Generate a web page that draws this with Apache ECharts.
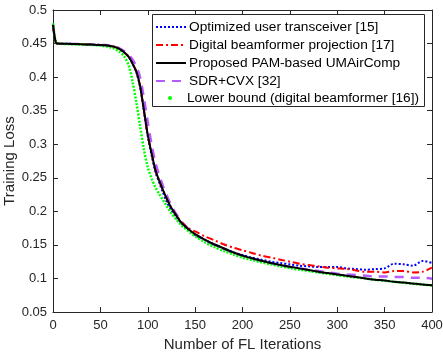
<!DOCTYPE html>
<html>
<head>
<meta charset="utf-8">
<script src="https://cdn.jsdelivr.net/npm/echarts@6/dist/echarts.min.js"></script>
<style>
  html, body { margin: 0; padding: 0; background: #fff; }
  #lossChart { width: 443px; height: 354px; }
</style>
</head>
<body>
<div id="lossChart"></div>
<script>
// FL iteration index for each sample
var iterations = [0, 2, 4, 10, 20, 30, 40, 50, 55, 60, 65, 70, 75, 80, 84, 88, 92, 96, 100, 104, 108, 112, 116, 120,
    125, 130, 135, 140, 145, 150, 160, 170, 180, 190, 200, 210, 220, 230, 240, 250, 260, 270, 280, 290, 300,
    310, 320, 330, 340, 350, 360, 370, 380, 390, 400];

var optimizedTransceiver = [0.478, 0.458, 0.450, 0.4498, 0.4495, 0.449, 0.4485, 0.448, 0.4475, 0.4465, 0.445, 0.442, 0.437, 0.430, 0.420, 0.407, 0.385, 0.349, 0.312, 0.284, 0.259, 0.243, 0.228, 0.214,
    0.201, 0.191, 0.183, 0.176, 0.170, 0.165, 0.158, 0.151, 0.145, 0.139, 0.135, 0.131, 0.128, 0.125, 0.123, 0.121, 0.119, 0.118, 0.117, 0.117, 0.117,
    0.115, 0.114, 0.113, 0.114, 0.115, 0.122, 0.121, 0.119, 0.126, 0.123];

var digitalProjection = [0.478, 0.458, 0.450, 0.4498, 0.4495, 0.449, 0.4485, 0.448, 0.4475, 0.4465, 0.445, 0.442, 0.437, 0.430, 0.420, 0.408, 0.386, 0.350, 0.314, 0.287, 0.262, 0.246, 0.232, 0.219,
    0.205, 0.194, 0.185, 0.178, 0.173, 0.170, 0.163, 0.157, 0.151, 0.146, 0.142, 0.138, 0.134, 0.131, 0.128, 0.125, 0.122, 0.120, 0.118, 0.116, 0.115,
    0.114, 0.112, 0.110, 0.110, 0.109, 0.111, 0.111, 0.109, 0.110, 0.116];

var proposedPAM = [0.478, 0.458, 0.450, 0.4498, 0.4495, 0.449, 0.4485, 0.448, 0.4475, 0.4465, 0.445, 0.442, 0.437, 0.430, 0.420, 0.408, 0.386, 0.350, 0.314, 0.287, 0.262, 0.246, 0.232, 0.219,
    0.205, 0.194, 0.184, 0.177, 0.171, 0.166, 0.158, 0.151, 0.145, 0.139, 0.134, 0.130, 0.1265, 0.123, 0.120, 0.1175, 0.115, 0.1125, 0.110, 0.108, 0.106,
    0.104, 0.102, 0.100, 0.098, 0.097, 0.095, 0.094, 0.0925, 0.091, 0.090];

var sdrCvx = [0.478, 0.458, 0.450, 0.4498, 0.4495, 0.449, 0.4485, 0.448, 0.4478, 0.447, 0.4458, 0.443, 0.439, 0.433, 0.426, 0.416, 0.399, 0.368, 0.333, 0.300, 0.273, 0.254, 0.238, 0.224,
    0.208, 0.196, 0.186, 0.178, 0.171, 0.165, 0.157, 0.150, 0.144, 0.138, 0.134, 0.130, 0.126, 0.123, 0.120, 0.117, 0.115, 0.113, 0.111, 0.109, 0.107,
    0.106, 0.105, 0.104, 0.103, 0.103, 0.102, 0.102, 0.101, 0.101, 0.0995];

var lowerBound = [0.480, 0.458, 0.450, 0.4495, 0.449, 0.4485, 0.448, 0.447, 0.446, 0.4445, 0.442, 0.438, 0.431, 0.417, 0.393, 0.362, 0.326, 0.292, 0.266, 0.249, 0.236, 0.226, 0.217, 0.208,
    0.197, 0.188, 0.180, 0.174, 0.168, 0.163, 0.154, 0.147, 0.141, 0.136, 0.131, 0.1275, 0.124, 0.121, 0.118, 0.1155, 0.113, 0.111, 0.109, 0.107, 0.105,
    0.103, 0.1015, 0.100, 0.098, 0.0965, 0.095, 0.0935, 0.092, 0.091, 0.0895];

var xTicks = [0, 50, 100, 150, 200, 250, 300, 350, 400];
var yTicks = [0.05, 0.1, 0.15, 0.2, 0.25, 0.3, 0.35, 0.4, 0.45, 0.5];

var seriesNames = [
    'Optimized user transceiver [15]',
    'Digital beamformer projection [17]',
    'Proposed PAM-based UMAirComp',
    'SDR+CVX [32]',
    'Lower bound (digital beamformer [16])'
];

function pairs(ys) {
    return iterations.map(function (x, i) { return [x, ys[i]]; });
}

var chart = echarts.init(document.getElementById('lossChart'));

var axisColor = '#262626';
var font = 'Liberation Sans, Arial, Helvetica, sans-serif';

function xAxisDef(pos, showLabels) {
    return {
        type: 'value',
        position: pos,
        min: xTicks[0],
        max: xTicks[xTicks.length - 1],
        interval: xTicks[1] - xTicks[0],
        name: showLabels ? 'Number of FL Iterations' : '',
        nameLocation: 'middle',
        nameGap: 25,
        nameTextStyle: { color: '#262626', fontSize: 15, fontFamily: font },
        axisLine: { show: true, onZero: false, lineStyle: { color: axisColor, width: 1 } },
        axisTick: { show: true, inside: true, length: 5, lineStyle: { color: axisColor } },
        axisLabel: { show: showLabels, color: '#262626', fontSize: 13, fontFamily: font, margin: 7 },
        splitLine: { show: false }
    };
}

function yAxisDef(pos, showLabels) {
    return {
        type: 'value',
        position: pos,
        min: yTicks[0],
        max: yTicks[yTicks.length - 1],
        interval: 0.05,
        name: showLabels ? 'Training Loss' : '',
        nameLocation: 'middle',
        nameGap: 36,
        nameMoveOverlap: false,
        nameTextStyle: { color: '#262626', fontSize: 15, fontFamily: font },
        axisLine: { show: true, onZero: false, lineStyle: { color: axisColor, width: 1 } },
        axisTick: { show: true, inside: true, length: 5, lineStyle: { color: axisColor } },
        axisLabel: {
            show: showLabels, color: '#262626', fontSize: 13, fontFamily: font, margin: 6,
            formatter: function (v) { return String(+v.toFixed(2)); }
        },
        splitLine: { show: false }
    };
}

var option = {
    animation: false,
    backgroundColor: '#fff',
    grid: { left: 53, right: 11, top: 10, bottom: 42, outerBoundsMode: 'none', containLabel: false },
    xAxis: [xAxisDef('bottom', true), xAxisDef('top', false)],
    yAxis: [yAxisDef('left', true), yAxisDef('right', false)],
    graphic: [{
        type: 'rect',
        shape: { x: 152.5, y: 14.5, width: 272, height: 92 },
        style: { fill: '#fff', stroke: '#262626', lineWidth: 1 },
        z: 5
    }],
    legend: [{
        data: seriesNames.slice(0, 4),
        orient: 'vertical',
        left: 152,
        top: 15,
        padding: [5, 4, 4, 3],
        itemWidth: 30,
        itemHeight: 14,
        itemGap: 4,
        itemStyle: { opacity: 0 },
        textStyle: { color: '#000', fontSize: 13.7, fontFamily: font, padding: [0, 0, 0, -2] },
        z: 10
    }, {
        data: [{ name: seriesNames[4], icon: 'circle' }],
        orient: 'vertical',
        left: 168,
        top: 91,
        padding: 0,
        itemWidth: 4,
        itemHeight: 4,
        textStyle: { color: '#000', fontSize: 13.7, fontFamily: font, padding: [0, 0, 0, 10] },
        z: 10
    }],
    series: [{
        name: seriesNames[0],
        type: 'line',
        data: pairs(optimizedTransceiver),
        symbol: 'none',
        smooth: 0.3,
        itemStyle: { color: '#0000ff' },
        lineStyle: { color: '#0000ff', width: 2, type: [2, 2] },
        z: 3
    }, {
        name: seriesNames[1],
        type: 'line',
        data: pairs(digitalProjection),
        symbol: 'none',
        smooth: 0.3,
        itemStyle: { color: '#ff0000' },
        lineStyle: { color: '#ff0000', width: 2, type: [7, 3, 2, 3] },
        z: 3
    }, {
        name: seriesNames[2],
        type: 'line',
        data: pairs(proposedPAM),
        symbol: 'none',
        smooth: 0.3,
        itemStyle: { color: '#000000' },
        lineStyle: { color: '#000000', width: 2 },
        z: 4
    }, {
        name: seriesNames[3],
        type: 'line',
        data: pairs(sdrCvx),
        symbol: 'none',
        smooth: 0.3,
        itemStyle: { color: '#b45cff' },
        lineStyle: { color: '#b45cff', width: 2.5, type: [9, 7] },
        z: 2
    }, {
        name: seriesNames[4],
        type: 'line',
        data: pairs(lowerBound),
        symbol: 'none',
        smooth: 0.3,
        itemStyle: { color: '#00ff00' },
        lineStyle: { color: '#00ff00', width: 2.5, type: [2, 1.5] },
        z: 3
    }]
};

chart.setOption(option);
</script>
</body>
</html>
